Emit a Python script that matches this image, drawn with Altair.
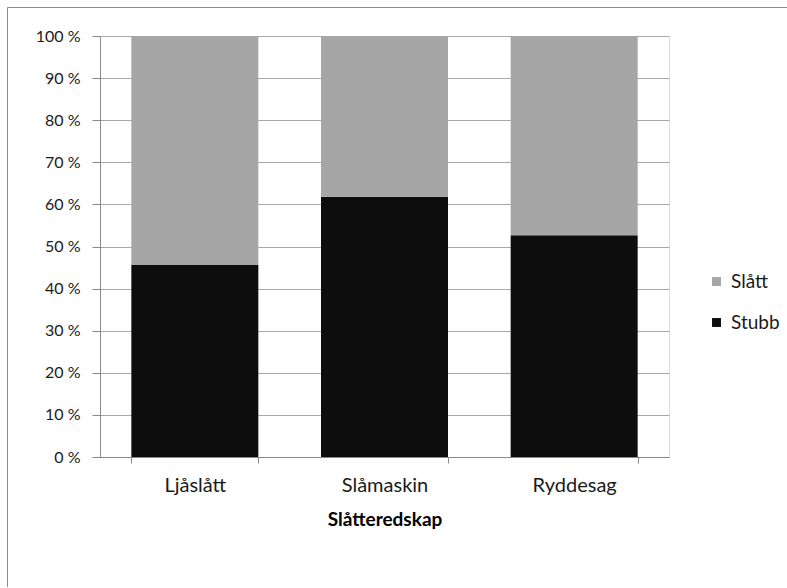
import altair as alt
import pandas as pd

categories = ["Ljåslått", "Slåmaskin", "Ryddesag"]
stubb = [45.6, 61.8, 52.7]
slatt = [54.4, 38.2, 47.3]
series = ["Slått", "Stubb"]
colors = ["#a6a6a6", "#0d0d0d"]

rows = []
for c, s, l in zip(categories, stubb, slatt):
    rows.append({"cat": c, "serie": "Stubb", "val": s, "ord": 0})
    rows.append({"cat": c, "serie": "Slått", "val": l, "ord": 1})
df = pd.DataFrame(rows)

FONT = "Lato"

bars = alt.Chart(df).mark_bar(size=127).encode(
    x=alt.X("cat:N", sort=categories,
            scale=alt.Scale(paddingInner=0.33, paddingOuter=0.165),
            axis=alt.Axis(title="Slåtteredskap", labelAngle=0, tickBand="extent",
                          grid=False,
                          domainColor="#888888", tickColor="#888888", tickSize=6,
                          labelPadding=12, titlePadding=15, labelFontSize=20,
                          titleFontSize=19, titleFontWeight="bold",
                          labelColor="#1a1a1a", titleColor="#000000")),
    y=alt.Y("val:Q", stack="zero",
            scale=alt.Scale(domain=[0, 100], nice=False),
            axis=alt.Axis(title=None, values=list(range(0, 101, 10)),
                          labelExpr="datum.value + ' %'", grid=True,
                          gridColor="#a8a8a8", domainColor="#888888",
                          tickColor="#888888", tickSize=8, labelPadding=12,
                          labelFontSize=16, labelColor="#1a1a1a")),
    color=alt.Color("serie:N", sort=series,
                    scale=alt.Scale(domain=series, range=colors),
                    legend=alt.Legend(title=None, orient="none", legendX=607,
                                      legendY=236, symbolType="square",
                                      symbolSize=80, symbolStrokeWidth=0,
                                      labelFontSize=19, rowPadding=21,
                                      labelColor="#1a1a1a", labelOffset=5)),
    order=alt.Order("ord:Q"),
)

edge = pd.DataFrame({"a": [0]})
top_edge = alt.Chart(edge).mark_rule(stroke="#8c8c8c", strokeWidth=1).encode(
    x=alt.value(-92.5), x2=alt.value(687), y=alt.value(-28.5))
left_edge = alt.Chart(edge).mark_rule(stroke="#8c8c8c", strokeWidth=1).encode(
    x=alt.value(-92.5), y=alt.value(-28.5), y2=alt.value(551))

chart = alt.layer(bars, top_edge, left_edge).properties(
    width=569, height=421,
    autosize=alt.AutoSizeParams(type="none"),
    padding={"left": 100, "top": 36, "right": 118, "bottom": 131},
).configure_view(stroke=None).configure(font=FONT)

chart.save("out.html", embed_options={"renderer": "svg", "actions": False})
